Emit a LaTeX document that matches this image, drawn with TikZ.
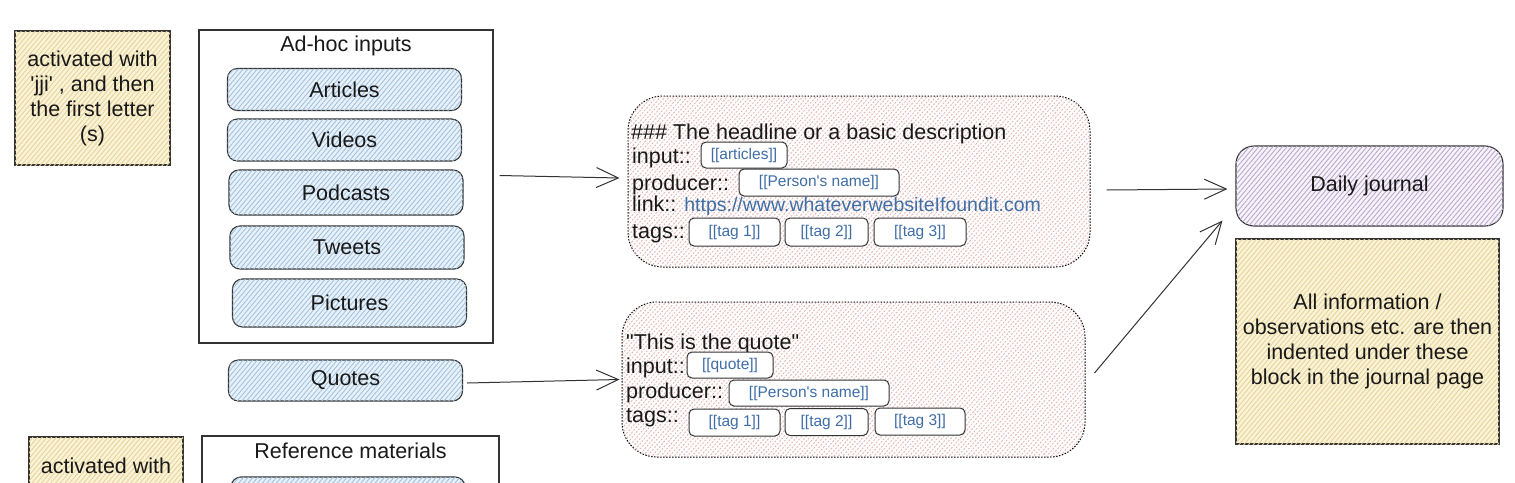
\documentclass[tikz,border=0pt]{standalone}
\usepackage{fontspec}
\setmainfont{Liberation Sans}
\usetikzlibrary{positioning,arrows.meta,patterns.meta}
\definecolor{notefill}{HTML}{FBF3D6}
\definecolor{notehatch}{HTML}{E6D49C}
\definecolor{itemfill}{HTML}{E8F1F9}
\definecolor{itemhatch}{HTML}{A2C2DD}
\definecolor{cardfill}{HTML}{FFFFFF}
\definecolor{cardhatch}{HTML}{E4B4B4}
\definecolor{journalfill}{HTML}{F7F3FA}
\definecolor{journalhatch}{HTML}{B9A8CC}
\definecolor{inkgray}{HTML}{333333}
\definecolor{linkblue}{HTML}{3F6DA6}
\newcommand{\bigtext}{\fontsize{21.5}{25}\selectfont}
\newcommand{\tagtext}{\fontsize{15.5}{18}\selectfont}
\newcommand{\urltext}{\fontsize{19.5}{25}\selectfont}
\newcommand{\sq}{\textquotesingle}

\begin{document}
\begin{tikzpicture}[x=1pt,y=-1pt]
    \tikzstyle{every node}=[font=\bigtext,text=black!90]
    \tikzstyle{note}=[draw=inkgray,line width=1.1pt,fill=notefill,align=center,
        postaction={pattern={Lines[angle=50,distance=3.6pt,line width=0.9pt]},pattern color=notehatch}]
    \tikzstyle{group}=[draw=inkgray,line width=1.1pt,fill=white]
    \tikzstyle{itembox}=[draw=inkgray,line width=1.1pt,rounded corners=10pt,fill=itemfill,
        minimum width=234,minimum height=42,
        postaction={pattern={Lines[angle=50,distance=3.6pt,line width=0.9pt]},pattern color=itemhatch}]
    \tikzstyle{card}=[draw=black,line width=1pt,dash pattern=on 1.5pt off 1.5pt,
        rounded corners=35pt,fill=cardfill,
        postaction={pattern={Lines[angle=50,distance=3.4pt,line width=0.9pt]},pattern color=cardhatch}]
    \tikzstyle{journalbox}=[draw=inkgray,line width=1.1pt,rounded corners=18pt,fill=journalfill,
        postaction={pattern={Lines[angle=50,distance=3.6pt,line width=0.9pt]},pattern color=journalhatch}]
    \tikzstyle{line}=[anchor=base west,inner sep=0pt]
    \tikzstyle{tagbox}=[draw=inkgray,line width=1pt,rounded corners=5pt,fill=white,
        font=\tagtext,text=linkblue,minimum height=26,inner sep=0pt]
    \tikzstyle{flow}=[-{Straight Barb[length=22pt,width=20pt]},line width=1pt,draw=inkgray]

    \useasboundingbox (0,0) rectangle (1515,482);
    \clip (0,0) rectangle (1515,482);
    \fill[white] (0,0) rectangle (1515,482);

    % left side: notes and input boxes
    \node[note,minimum width=155,minimum height=134] (jjinote) at (92.5,98)
        {activated with\\ \sq jji\sq{} , and then\\ the first letter\\ (s)};

    \node[group,minimum width=294,minimum height=313] (adhoc) at (346,186.5) {};
    \node (adhoctitle) at (346,46) {Ad-hoc inputs};
    \node[itembox] (articles) at (344.5,89.5) {Articles};
    \node[itembox] (videos) at (344.5,140) {Videos};
    \node[itembox,minimum height=45] (podcasts) at (346,192.5) {Podcasts};
    \node[itembox,minimum height=43] (tweets) at (347,247.5) {Tweets};
    \node[itembox,minimum height=48] (pictures) at (349.5,303) {Pictures};
    \node[itembox,minimum height=41] (quotes) at (345.5,380.5) {Quotes};

    % bottom row, cut by the page edge
    \node[note,minimum width=154,minimum height=134] (refnote) at (106,504) {};
    \node (refnotetext) at (106,466) {activated with};
    \node[group,minimum width=297,minimum height=313] (refmat) at (350.5,592.5) {};
    \node (refmattitle) at (350.5,451) {Reference materials};
    \node[itembox] (refitem) at (348,498) {};

    % first template block
    \node[card,minimum width=462,minimum height=171] (card1) at (859,181.5) {};
    \node[line] (c1head) at (631,139) {\#\#\# The headline or a basic description};
    \node[line] (c1input) at (632,163) {input::};
    \node[line] (c1producer) at (632,190) {producer::};
    \node[line] (c1link) at (632,211) {link:: {\urltext\color{linkblue}https://www.whateverwebsiteIfoundit.com}};
    \node[line] (c1tags) at (632,238) {tags::};
    \node[tagbox,minimum width=86] (c1art) at (744,155) {[[articles]]};
    \node[tagbox,minimum width=160,minimum height=27] (c1person) at (819,182.5) {[[Person\sq s name]]};
    \node[tagbox,minimum width=91,minimum height=28] (c1tagA) at (734.5,232) {[[tag 1]]};
    \node[tagbox,minimum width=83,minimum height=28] (c1tagB) at (826.5,232) {[[tag 2]]};
    \node[tagbox,minimum width=92,minimum height=28] (c1tagC) at (920,232) {[[tag 3]]};

    % second template block
    \node[card,minimum width=463,minimum height=155] (card2) at (853.5,379.5) {};
    \node[line] (c2head) at (626,349) {\textquotedbl This is the quote\textquotedbl};
    \node[line] (c2input) at (626,373) {input::};
    \node[line] (c2producer) at (626,398) {producer::};
    \node[line] (c2tags) at (626,422) {tags::};
    \node[tagbox,minimum width=86] (c2quote) at (730,365) {[[quote]]};
    \node[tagbox,minimum width=160] (c2person) at (809,393) {[[Person\sq s name]]};
    \node[tagbox,minimum width=91,minimum height=27] (c2tagA) at (734.5,422.5) {[[tag 1]]};
    \node[tagbox,minimum width=83,minimum height=27] (c2tagB) at (826.5,422) {[[tag 2]]};
    \node[tagbox,minimum width=90,minimum height=27] (c2tagC) at (920,421.5) {[[tag 3]]};

    % right side
    \node[journalbox,minimum width=267,minimum height=80] (journal) at (1369.5,186) {Daily journal};
    \node[note,minimum width=263,minimum height=205] (indentnote) at (1367.5,341.5)
        {All information /\\ observations etc. are then\\ indented under these\\ block in the journal page};

    % arrows
    \draw[flow] ([xshift=6pt,yshift=11pt]adhoc.east) -- ([xshift=-8pt,yshift=3.5pt]card1.west);
    \draw[flow] ([xshift=4pt,yshift=-2.5pt]quotes.east) -- ([xshift=-2pt]card2.west);
    \draw[flow] ([xshift=16pt,yshift=-8.5pt]card1.east) -- ([xshift=-8pt,yshift=-3pt]journal.west);
    \draw[flow] ([xshift=9pt,yshift=6.5pt]card2.east) -- ([xshift=-13pt,yshift=6pt]journal.south west);
\end{tikzpicture}
\end{document}
